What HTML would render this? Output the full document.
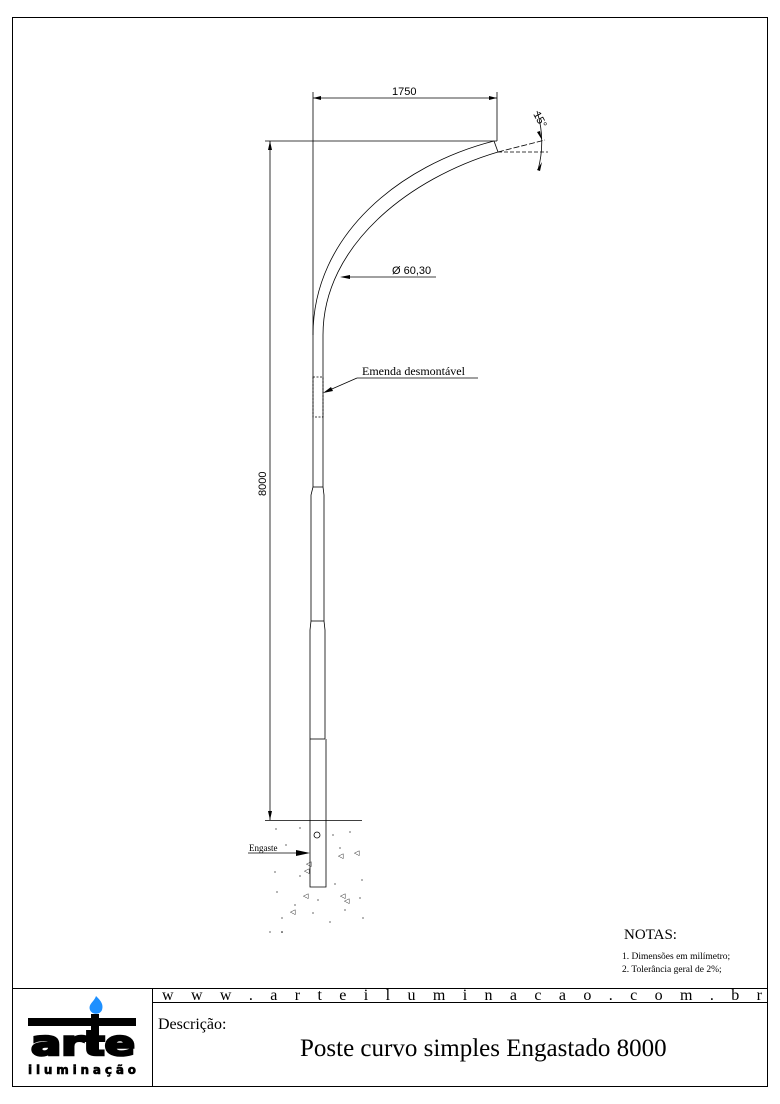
<!DOCTYPE html>
<html><head><meta charset="utf-8"><style>
body{margin:0;background:#fff}
svg{display:block}
</style></head><body>
<svg width="780" height="1104" viewBox="0 0 780 1104" xmlns="http://www.w3.org/2000/svg" font-family="Liberation Serif, serif">
<rect x="12.5" y="17.5" width="755" height="1069" fill="none" stroke="#000" stroke-width="1"/>
<line x1="12" y1="988.5" x2="767" y2="988.5" stroke="#000"/>
<line x1="152.5" y1="988" x2="152.5" y2="1086" stroke="#000"/>
<line x1="152" y1="1002.5" x2="767" y2="1002.5" stroke="#000"/>
<text x="162" y="1000" font-size="16" textLength="600" lengthAdjust="spacing">w w w . a r t e i l u m i n a c a o . c o m . b r</text>
<text x="158" y="1029" font-size="16">Descrição:</text>
<text x="300" y="1056" font-size="25">Poste curvo simples Engastado 8000</text>
<!-- logo -->
<path d="M96,996 C100,1000 104,1004 102,1010 C100,1015 92,1015 90,1010 C88,1004 94,1002 96,996Z" fill="#1e90ff"/>
<rect x="28" y="1018" width="108" height="8" fill="#000"/>
<rect x="91" y="1014" width="8" height="40" fill="#000"/>
<text x="31" y="1055" font-family="DejaVu Sans, sans-serif" font-weight="bold" font-size="34" fill="#000" stroke="#000" stroke-width="2.5" textLength="104" lengthAdjust="spacingAndGlyphs">arte</text>
<text x="28" y="1074" font-family="DejaVu Sans, sans-serif" font-weight="bold" font-size="12" stroke="#000" stroke-width="0.6" textLength="108" lengthAdjust="spacing">iluminação</text>
<!-- notes -->
<text x="624" y="939" font-size="15">NOTAS:</text>
<text x="622" y="959" font-size="9.5">1. Dimensões em milímetro;</text>
<text x="622" y="972" font-size="9.5">2. Tolerância geral de 2%;</text>
<!-- dimensions -->
<g stroke="#000" stroke-width="0.8" fill="none">
<line x1="313" y1="92" x2="313" y2="335"/>
<line x1="497" y1="92" x2="497" y2="141"/>
<line x1="313" y1="98" x2="497" y2="98"/>
<line x1="265" y1="141" x2="497" y2="141"/>
<line x1="270" y1="141" x2="270" y2="820"/>
<line x1="265" y1="820.5" x2="362" y2="820.5"/>
<path d="M313,335 C313,235 400,165 494,141"/>
<path d="M323,335 C323,245 410,178 498,152"/>
<line x1="494" y1="141" x2="498" y2="152"/>
<line x1="498" y1="152" x2="548" y2="152" stroke-dasharray="4,2"/>
<line x1="498" y1="152" x2="545" y2="140" stroke-dasharray="6,2"/>
<path d="M537,111 Q546,140 538,170"/>
<line x1="313" y1="335" x2="313" y2="487"/>
<line x1="323" y1="335" x2="323" y2="487"/>
<line x1="313" y1="487" x2="323" y2="487"/>
<path d="M313,487 L311,495 L311,621 M323,487 L324,495 L324,621"/>
<line x1="311" y1="621" x2="324" y2="621"/>
<path d="M311,621 L310,630 L310,739 M324,621 L325,630 L325,739"/>
<line x1="310" y1="739" x2="325" y2="739"/>
<path d="M310,739 L310,887 L326,887 L326,739"/>
<rect x="313" y="377" width="10" height="40" stroke-dasharray="2,1.5"/>
<circle cx="317" cy="835" r="3"/>
<line x1="343" y1="277" x2="436" y2="277"/>
<line x1="325" y1="392" x2="357" y2="378"/>
<line x1="357" y1="378" x2="478" y2="378"/>
<line x1="248" y1="853" x2="300" y2="853"/>
</g>
<g fill="#000">
<polygon points="497,98 489,96 489,100"/>
<polygon points="313,98 321,96 321,100"/>
<polygon points="270,141 268,150 272,150"/>
<polygon points="270,820 268,811 272,811"/>
<polygon points="340,277 350,275 350,279"/>
<polygon points="323,393 331,387 333,391"/>
<polygon points="310,853 296,850 296,856"/>
<polygon points="542,140 537,132 540,131"/>
<polygon points="542,162 537,170 540,171"/>
</g>
<text x="392" y="95" font-family="Liberation Sans, sans-serif" font-size="11">1750</text>
<text transform="translate(266,496) rotate(-90)" font-family="Liberation Sans, sans-serif" font-size="11">8000</text>
<text transform="translate(533,114) rotate(62)" font-family="Liberation Sans, sans-serif" font-size="11">15°</text>
<text x="392" y="274" font-family="Liberation Sans, sans-serif" font-size="11">Ø 60,30</text>
<text x="362" y="375" font-size="12">Emenda desmontável</text>
<text x="249" y="851" font-size="9">Engaste</text>
<g fill="#000" font-size="7" font-family="Liberation Sans, sans-serif">
<text x="338" y="858">◁</text><text x="354" y="855">◁</text><text x="306" y="866">◁</text>
<text x="304" y="873">◁</text><text x="340" y="898">◁</text><text x="344" y="903">◁</text>
<text x="303" y="898">◁</text><text x="290" y="914">◁</text>
<circle cx="276" cy="829" r=".6"/><circle cx="300" cy="828" r=".6"/><circle cx="333" cy="835" r=".6"/>
<circle cx="350" cy="832" r=".6"/><circle cx="286" cy="845" r=".6"/><circle cx="340" cy="848" r=".6"/>
<circle cx="275" cy="872" r=".6"/><circle cx="300" cy="876" r=".6"/><circle cx="335" cy="884" r=".6"/>
<circle cx="362" cy="880" r=".6"/><circle cx="277" cy="892" r=".6"/><circle cx="318" cy="900" r=".6"/>
<circle cx="360" cy="898" r=".6"/><circle cx="282" cy="918" r=".6"/><circle cx="313" cy="913" r=".6"/>
<circle cx="345" cy="910" r=".6"/><circle cx="363" cy="918" r=".6"/><circle cx="270" cy="932" r=".6"/>
<circle cx="282" cy="932" r=".8"/><circle cx="330" cy="922" r=".6"/><circle cx="295" cy="905" r=".6"/>
</g>
</svg>
</body></html>
